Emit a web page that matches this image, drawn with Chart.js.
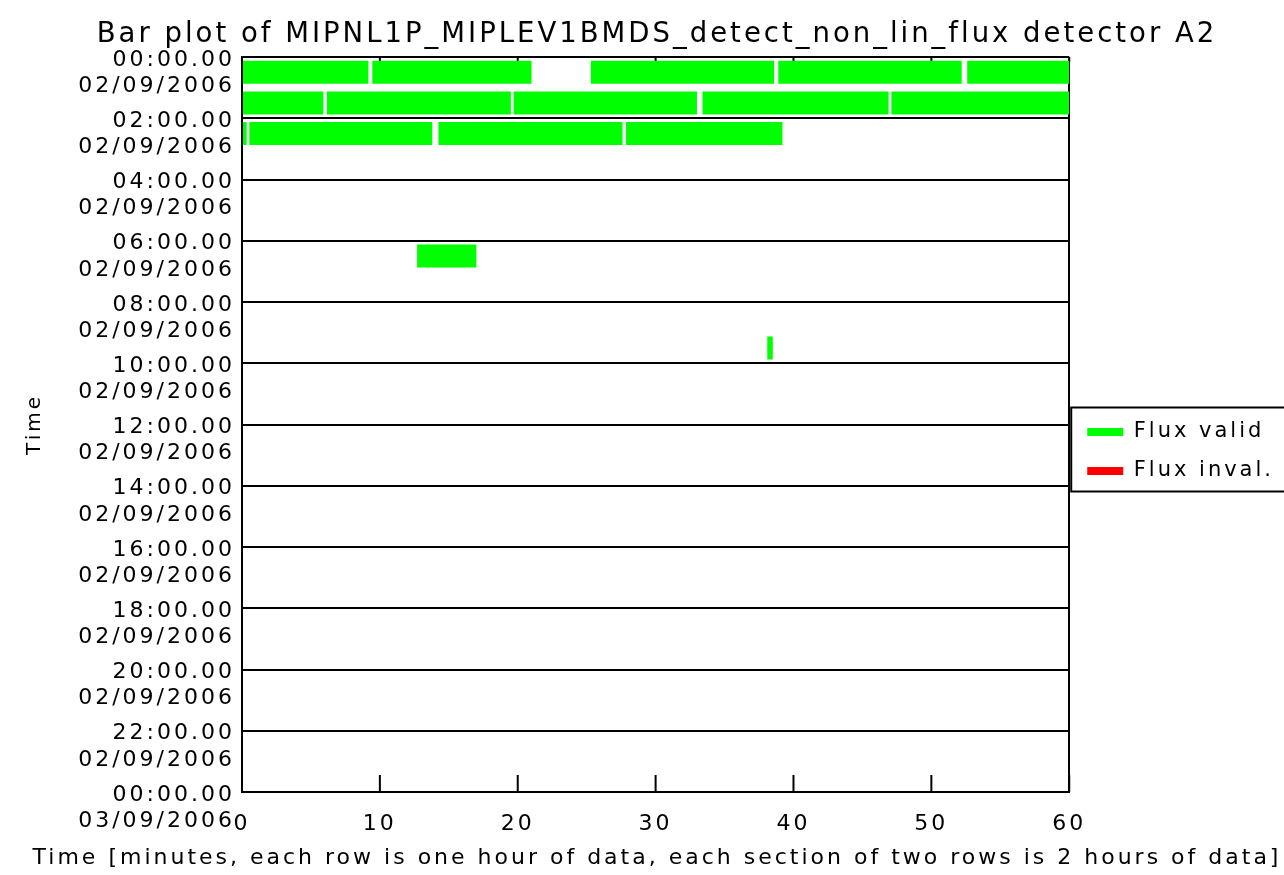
<!DOCTYPE html>
<html>
<head>
<meta charset="utf-8">
<script src="https://cdn.jsdelivr.net/npm/chart.js@4.4.0/dist/chart.umd.min.js"></script>
<style>
html, body { margin: 0; padding: 0; background: #ffffff; }
#wrap { width: 1284px; height: 875px; }
</style>
</head>
<body>
<div id="wrap"><canvas id="c"></canvas></div>
<script>
// ---------- data ----------
const chartTitle = 'Bar plot of MIPNL1P_MIPLEV1BMDS_detect_non_lin_flux detector A2';
const xAxisTitle = 'Time [minutes, each row is one hour of data, each section of two rows is 2 hours of data]';
const yAxisTitle = 'Time';
const seriesNames = ['Flux valid', 'Flux inval.'];
const seriesColors = ['#00ff00', '#ff0000'];

// valid segments: hour row, start minute, end minute
const validHour  = [0, 0, 0, 0, 0,   1, 1, 1, 1, 1,   2, 2, 2, 2,   6,    9];
const validStart = [0, 9.45, 25.3, 38.9, 52.6,   0, 6.15, 19.7, 33.4, 47.1,   0, 0.53, 14.25, 27.85,   12.7, 38.1];
const validEnd   = [9.17, 21.0, 38.6, 52.2, 60,   5.9, 19.5, 33.0, 46.9, 60,   0.34, 13.8, 27.6, 39.2,   17.0, 38.5];

// invalid segments (none in this plot)
const invalidHour = [];
const invalidStart = [];
const invalidEnd = [];

// axis ticks
const yTickHours = [0, 2, 4, 6, 8, 10, 12, 14, 16, 18, 20, 22, 24];
const yTickTimes = ['00:00.00', '02:00.00', '04:00.00', '06:00.00', '08:00.00', '10:00.00',
                    '12:00.00', '14:00.00', '16:00.00', '18:00.00', '20:00.00', '22:00.00', '00:00.00'];
const yTickDates = ['02/09/2006', '02/09/2006', '02/09/2006', '02/09/2006', '02/09/2006', '02/09/2006',
                    '02/09/2006', '02/09/2006', '02/09/2006', '02/09/2006', '02/09/2006', '02/09/2006', '03/09/2006'];
const xTickValues = [0, 10, 20, 30, 40, 50, 60];

// ---------- build ----------
function segments(hours, starts, ends) {
  return hours.map((h, i) => ({ y: h + 0.5, x: [starts[i], ends[i]] }));
}

const FONT = "'DejaVu Sans', sans-serif";
Chart.defaults.font.family = FONT;
Chart.defaults.color = '#000000';

const spacingPlugin = {
  id: 'spacing',
  beforeLayout(chart) { chart.ctx.letterSpacing = '3px'; },
  beforeDraw(chart) { chart.ctx.letterSpacing = '3px'; }
};

const framePlugin = {
  id: 'frame',
  beforeDatasetsDraw(chart) {
    const ctx = chart.ctx, xs = chart.scales.x, a = chart.chartArea;
    ctx.save();
    ctx.strokeStyle = '#000000';
    ctx.lineWidth = 2;
    xs.ticks.forEach(t => {
      const px = xs.getPixelForValue(t.value);
      ctx.beginPath();
      ctx.moveTo(px, a.bottom); ctx.lineTo(px, a.bottom - 17);
      ctx.moveTo(px, a.top); ctx.lineTo(px, a.top + 5);
      ctx.stroke();
    });
    ctx.restore();
  },
  afterDraw(chart) {
    const lg = chart.legend;
    if (!lg || !lg.legendHitBoxes || !lg.legendHitBoxes.length) return;
    const hb = lg.legendHitBoxes;
    const first = hb[0], last = hb[hb.length - 1];
    const ctx = chart.ctx;
    ctx.save();
    ctx.strokeStyle = '#000000';
    ctx.lineWidth = 2;
    const top = first.top - 14;
    const bottom = last.top + last.height + 10;
    ctx.strokeRect(chart.chartArea.right + 2, top, chart.width + 10, bottom - top);
    ctx.restore();
  }
};

new Chart(document.getElementById('c'), {
  type: 'bar',
  data: {
    datasets: [
      { label: seriesNames[0], data: segments(validHour, validStart, validEnd),
        backgroundColor: seriesColors[0], borderWidth: 0 },
      { label: seriesNames[1], data: segments(invalidHour, invalidStart, invalidEnd),
        backgroundColor: seriesColors[1], borderWidth: 0 }
    ]
  },
  options: {
    indexAxis: 'y',
    responsive: true,
    maintainAspectRatio: false,
    animation: false,
    devicePixelRatio: 1,
    layout: { padding: { right: 0, top: 0, bottom: 0, left: 30 } },
    datasets: { bar: { grouped: false, categoryPercentage: 1.0, barPercentage: 0.75 } },
    plugins: {
      title: {
        display: true, text: chartTitle, fullSize: true, color: '#000000',
        font: { size: 27.5, weight: 'normal', family: FONT, lineHeight: 1.2 },
        padding: { top: 18, bottom: 6 }
      },
      subtitle: {
        display: true, text: xAxisTitle, position: 'bottom', fullSize: true, color: '#000000',
        font: { size: 22, weight: 'normal', family: FONT, lineHeight: 1.2 },
        padding: { top: 4, bottom: 4 }
      },
      legend: {
        display: true, position: 'right', align: 'center', fullSize: true,
        title: { display: true, text: ' ', font: { size: 10, family: FONT }, padding: 8 },
        labels: { boxWidth: 36, boxHeight: 8, padding: 18, color: '#000000',
                  font: { size: 21, family: FONT } }
      },
      tooltip: { enabled: false }
    },
    scales: {
      x: {
        type: 'linear', position: 'bottom', min: 0, max: 60, offset: false,
        afterFit(s) { s.height = 48.6; },
        afterBuildTicks(s) { s.ticks = xTickValues.map(v => ({ value: v })); },
        ticks: { autoSkip: false, maxRotation: 0, padding: 19, color: '#000000',
                 font: { size: 22, family: FONT }, callback: v => String(v) },
        grid: { drawTicks: false, lineWidth: 2, offset: false,
                color: c => (c.tick && c.tick.value === 60) ? '#000000' : 'rgba(0,0,0,0)' },
        border: { display: true, color: '#000000', width: 2 }
      },
      y: {
        type: 'linear', position: 'left', min: 0, max: 24, reverse: true, offset: false,
        afterFit(s) { s.width = 212; },
        afterBuildTicks(s) { s.ticks = yTickHours.map(v => ({ value: v })); },
        ticks: { autoSkip: false, padding: 7, labelOffset: 16, color: '#000000',
                 font: { size: 22, family: FONT, lineHeight: 1.2 },
                 callback: v => { const i = yTickHours.indexOf(v); return i < 0 ? '' : [yTickTimes[i], yTickDates[i]]; } },
        grid: { drawTicks: false, lineWidth: 2, color: '#000000', offset: false },
        border: { display: true, color: '#000000', width: 2 },
        title: { display: true, text: yAxisTitle, color: '#000000',
                 font: { size: 20, family: FONT }, padding: { top: -7, bottom: 0 } }
      }
    }
  },
  plugins: [spacingPlugin, framePlugin]
});
</script>
</body>
</html>
